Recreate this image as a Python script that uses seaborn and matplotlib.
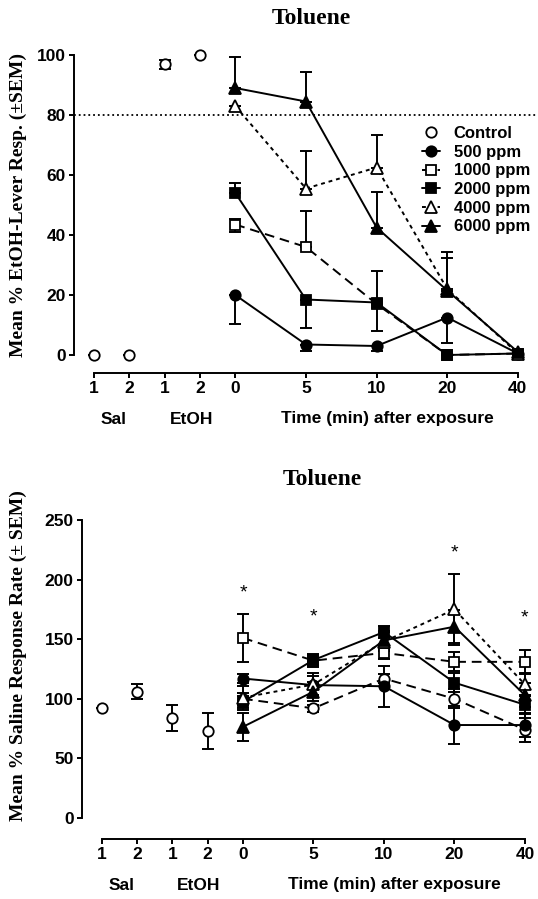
import numpy as np
import pandas as pd
import seaborn as sns
import matplotlib.pyplot as plt
import matplotlib.transforms as mtransforms

# x categories: Sal 1-2, EtOH 1-2, then minutes after exposure
pre_pos = [0, 1, 2, 3]
time_pos = [4, 6, 8, 10, 12]
tick_labels = ['1', '2', '1', '2', '0', '5', '10', '20', '40']
group_labels = ['Sal', 'EtOH', 'Time (min) after exposure']
doses = ['500 ppm', '1000 ppm', '2000 ppm', '4000 ppm', '6000 ppm']

# --- top panel: mean % EtOH-lever responding
ctrl_pct = [0, 0, 97, 100]
ctrl_pct_err = [0, 0, 1.5, 0]
pct = {
    '500 ppm':  [20, 3.5, 3, 12.5, 0.5],
    '1000 ppm': [43.5, 36, 17, 0, 0.5],
    '2000 ppm': [54, 18.5, 17.5, 0, 0.5],
    '4000 ppm': [83, 55.5, 62.5, 22, 0.5],
    '6000 ppm': [89, 84.5, 42.5, 21.5, 1],
}
# one-sided SEM bars (lower, upper)
pct_lo = {
    '500 ppm':  [9.5, 2, 1.5, 8.5, 0],
    '1000 ppm': [2.5, 0, 0, 0, 0],
    '2000 ppm': [0, 9.5, 9.5, 0, 0],
    '4000 ppm': [0, 0, 0, 0, 0],
    '6000 ppm': [0, 0, 0, 0, 0],
}
pct_hi = {
    '500 ppm':  [0, 0, 0, 0, 0],
    '1000 ppm': [2, 12, 0, 0, 0],
    '2000 ppm': [3.5, 0, 10.5, 0, 0],
    '4000 ppm': [0, 12.5, 11, 12.5, 0],
    '6000 ppm': [10.5, 10, 12, 11, 0],
}

# --- bottom panel: mean % saline response rate
ctrl_rate_pre = [92.5, 106, 84, 73]
ctrl_rate_pre_err = [0, 6.5, 11, 15]
ctrl_rate = [100, 92, 117, 100, 74]
ctrl_rate_err = [5, 3, 4, 8, 10]
rate = {
    '500 ppm':  [117, 111.5, 110.5, 78, 78],
    '1000 ppm': [151, 132, 138.5, 131, 131],
    '2000 ppm': [97.5, 132.5, 156, 113.5, 95],
    '4000 ppm': [101, 112, 148, 175, 112],
    '6000 ppm': [76.5, 106, 149, 160.5, 103],
}
rate_err = {
    '500 ppm':  [4, 8, 17, 16, 10],
    '1000 ppm': [20, 5, 5, 8, 10],
    '2000 ppm': [5, 5, 5, 8, 8],
    '4000 ppm': [10, 10, 8, 30, 10],
    '6000 ppm': [12, 8, 8, 14, 10],
}
star_pos = [4, 6, 10, 12]
star_y = [194, 174.5, 228, 173]

# marker, filled, linestyle
styles = {
    'Control':  ('o', False, (0, (5, 3))),
    '500 ppm':  ('o', True, '-'),
    '1000 ppm': ('s', False, (0, (5, 3))),
    '2000 ppm': ('s', True, '-'),
    '4000 ppm': ('^', False, (0, (2, 2))),
    '6000 ppm': ('^', True, '-'),
}

sns.set_style('ticks')
plt.rcParams['font.family'] = ['Liberation Sans', 'DejaVu Sans']
plt.rcParams['font.weight'] = 'bold'
for k in ('text.color', 'axes.edgecolor', 'xtick.color', 'ytick.color', 'axes.labelcolor'):
    plt.rcParams[k] = 'black'
serif = ['Liberation Serif', 'DejaVu Serif']

fig = plt.figure(figsize=(5.38, 8.99), dpi=100)
ax1 = fig.add_axes([74 / 538, 1 - 373 / 899, 464 / 538, 327 / 899])
ax2 = fig.add_axes([82 / 538, 1 - 839 / 899, 456 / 538, 325 / 899])


def draw(ax, x, y, lo, hi, name, line=True):
    m, filled, ls = styles[name]
    ax.errorbar(x, y, yerr=[lo, hi], fmt='none', ecolor='k', elinewidth=1.4,
                capsize=4, capthick=1.4, zorder=2, clip_on=False)
    df = pd.DataFrame({'x': x, 'y': y})
    sns.lineplot(data=df, x='x', y='y', ax=ax, color='k', errorbar=None,
                 marker=m, markersize=8.5 if m == '^' else 7.5,
                 markerfacecolor='k' if filled else 'white',
                 markeredgecolor='k', markeredgewidth=1.3,
                 linestyle=ls if line else 'none', linewidth=1.4,
                 label=name, zorder=3, clip_on=False)


# top panel
draw(ax1, pre_pos, ctrl_pct, ctrl_pct_err, ctrl_pct_err, 'Control', line=False)
for d in doses:
    draw(ax1, time_pos, pct[d], pct_lo[d], pct_hi[d], d)
ax1.axhline(80, color='k', ls=':', lw=1.3, zorder=1)

# bottom panel
draw(ax2, pre_pos, ctrl_rate_pre, ctrl_rate_pre_err, ctrl_rate_pre_err, 'Control', line=False)
draw(ax2, time_pos, ctrl_rate, ctrl_rate_err, ctrl_rate_err, 'Control')
for d in doses:
    draw(ax2, time_pos, rate[d], rate_err[d], rate_err[d], d)
for xs, ys in zip(star_pos, star_y):
    ax2.annotate('*', (xs, ys), xytext=(0, -8), textcoords='offset points',
                 ha='center', va='baseline', fontsize=14, fontweight='normal')

ax1.set_xlim(-0.566, 12.57)
ax1.set_ylim(-6, 103)
ax1.set_yticks([0, 20, 40, 60, 80, 100])
ax1.spines['left'].set_bounds(0, 100)
ax2.set_xlim(-0.567, 12.37)
ax2.set_ylim(-17.6, 255)
ax2.set_yticks([0, 50, 100, 150, 200, 250])
ax2.spines['left'].set_bounds(0, 250)

for ax in (ax1, ax2):
    ax.set_xticks(pre_pos + time_pos)
    ax.set_xticklabels(tick_labels)
    ax.spines['bottom'].set_bounds(0, 12)
    for s in ('top', 'right'):
        ax.spines[s].set_visible(False)
    for s in ('left', 'bottom'):
        ax.spines[s].set_linewidth(1.4)
    ax.tick_params(length=3.6, width=1.4, labelsize=12.5, pad=2.5)
    ax.set_xlabel('')
    ax.set_ylabel('')
    if ax.get_legend():
        ax.get_legend().remove()
    tr = mtransforms.blended_transform_factory(ax.transData, fig.transFigure)
    ybase = 1 - 419 / 899 if ax is ax1 else 1 - 885 / 899
    for gx, g in zip([0.55, 2.75, 8.3], group_labels):
        ax.text(gx, ybase, g, transform=tr, ha='center', va='center', fontsize=12.5)

h, l = ax1.get_legend_handles_labels()
ax1.legend(h, l, loc='upper left', bbox_to_anchor=(422 / 538, 1 - 126 / 899),
           bbox_transform=fig.transFigure, frameon=False, fontsize=12,
           borderpad=0, borderaxespad=0, handlelength=1.1, handletextpad=0.8,
           labelspacing=0.22)

fig.text(311 / 538, 1 - 18 / 899, 'Toluene', family=serif, fontsize=17,
         fontweight='bold', ha='center', va='center')
fig.text(322 / 538, 1 - 479 / 899, 'Toluene', family=serif, fontsize=17,
         fontweight='bold', ha='center', va='center')
fig.text(18 / 538, 1 - 205 / 899, 'Mean % EtOH-Lever Resp. (\u00b1SEM)', family=serif,
         fontsize=14, fontweight='bold', rotation=90, ha='center', va='center')
fig.text(18 / 538, 1 - 656 / 899, 'Mean % Saline Response Rate (\u00b1 SEM)', family=serif,
         fontsize=14, fontweight='bold', rotation=90, ha='center', va='center')

fig.savefig('out.png', dpi=100)
